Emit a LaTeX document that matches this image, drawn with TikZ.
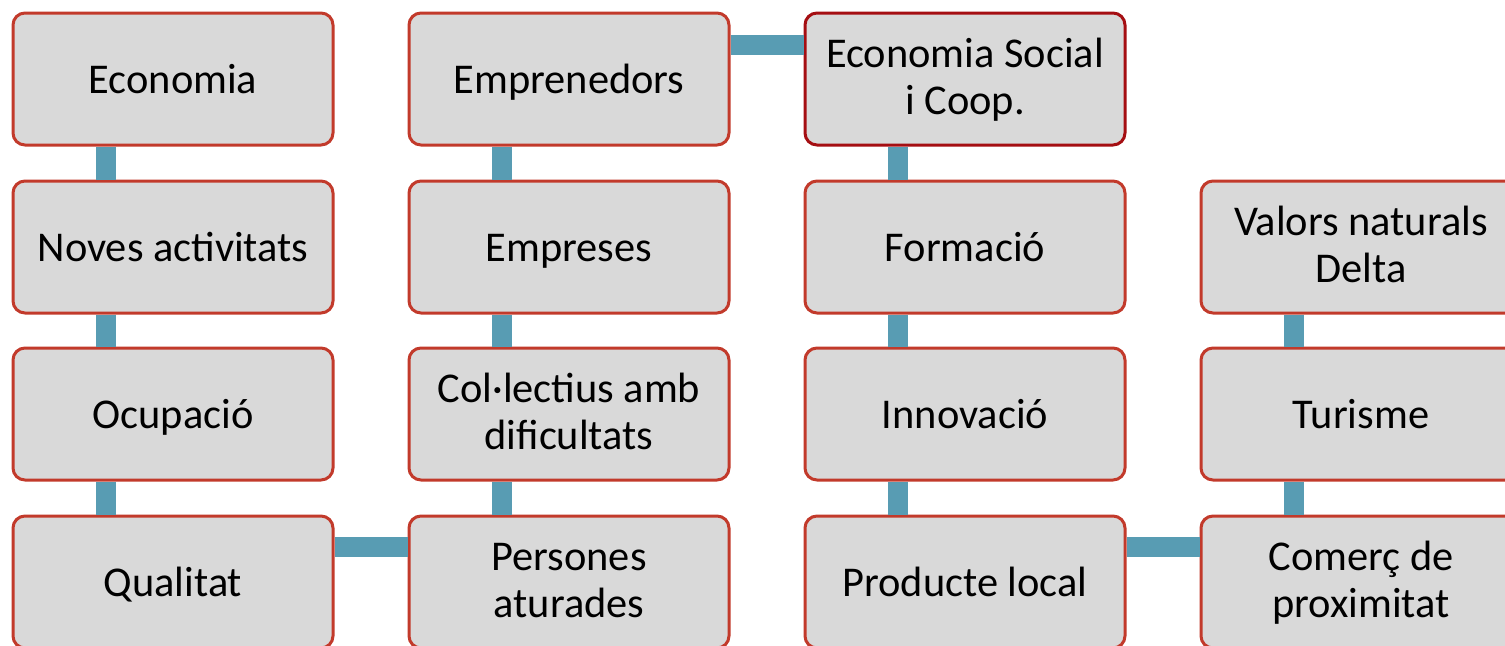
\documentclass[tikz,border=0pt]{standalone}
\usepackage{fontspec}
\setmainfont{Carlito}
\definecolor{boxfill}{HTML}{D9D9D9}
\definecolor{boxline}{HTML}{C23A2B}
\definecolor{darkline}{HTML}{A50E12}
\definecolor{linkblue}{HTML}{589CB3}
\tikzset{
  box/.style={draw=boxline, fill=boxfill, line width=1.5pt, rounded corners=6pt,
    minimum width=160pt, minimum height=66pt, align=center,
    font=\fontsize{21.2}{23.5}\selectfont,
    execute at begin node={\rule{0pt}{21.5pt}}, execute at end node=\strut},
  twoline/.style={text height=42pt, text depth=7pt},
  link/.style={draw=linkblue, line width=10pt}
}
\begin{document}
\begin{tikzpicture}[x=0.5pt, y=-0.5pt]
  \useasboundingbox (0,0) rectangle (1505,645);
  \clip (0,0) rectangle (1505,645);
  \draw
    (173,79) node[box] (eco){Economia}
    (173,247) node[box] (nov){Noves activitats}
    (173,414) node[box] (ocu){Ocupació}
    (173,582) node[box] (qua){Qualitat}
    (569,79) node[box] (emp){Emprenedors}
    (569,247) node[box] (ems){Empreses}
    (569,414) node[box, twoline] (col){Col·lectius amb\\dificultats}
    (569,582) node[box, twoline] (per){Persones\\aturades}
    (965,79) node[box, twoline, draw=darkline] (esc){Economia Social\\i Coop.}
    (965,247) node[box] (for){Formació}
    (965,414) node[box] (inn){Innovació}
    (965,582) node[box] (pro){Producte local}
    (1361,247) node[box, twoline] (val){Valors naturals\\Delta}
    (1361,414) node[box] (tur){Turisme}
    (1361,582) node[box, twoline] (com){Comerç de\\proximitat};
  \begin{scope}[link]
    % vertical links
    \draw ([xshift=47pt]eco.south west) to ([xshift=47pt]nov.north west);
    \draw ([xshift=47pt]nov.south west) to ([xshift=47pt]ocu.north west);
    \draw ([xshift=47pt]ocu.south west) to ([xshift=47pt]qua.north west);
    \draw ([xshift=47pt]emp.south west) to ([xshift=47pt]ems.north west);
    \draw ([xshift=47pt]ems.south west) to ([xshift=47pt]col.north west);
    \draw ([xshift=47pt]col.south west) to ([xshift=47pt]per.north west);
    \draw ([xshift=47pt]esc.south west) to ([xshift=47pt]for.north west);
    \draw ([xshift=47pt]for.south west) to ([xshift=47pt]inn.north west);
    \draw ([xshift=47pt]inn.south west) to ([xshift=47pt]pro.north west);
    \draw ([xshift=47pt]val.south west) to ([xshift=47pt]tur.north west);
    \draw ([xshift=47pt]tur.south west) to ([xshift=47pt]com.north west);
    % horizontal links
    \draw ([yshift=-16.5pt]emp.north east) to ([yshift=-16.5pt]esc.north west);
    \draw ([yshift=-16pt]qua.north east) to ([yshift=-16pt]per.north west);
    \draw ([yshift=-16pt]pro.north east) to ([yshift=-16pt]com.north west);
  \end{scope}
\end{tikzpicture}
\end{document}
